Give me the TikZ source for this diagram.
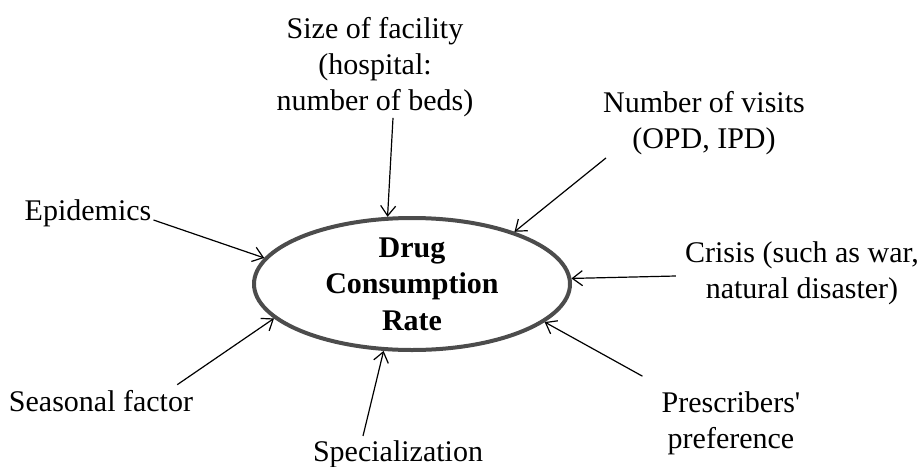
\documentclass[tikz,border=0pt]{standalone}
\usepackage{fontspec}
\setmainfont{Liberation Serif}
\usetikzlibrary{shapes.geometric, arrows.meta}

\begin{document}
\begin{tikzpicture}[x=1pt, y=-1pt,
    factor/.style={inner sep=0pt, align=center, font=\fontsize{30}{36}\selectfont},
    feed/.style={-{Straight Barb[length=10pt, width=15pt]}, line width=1.2pt, black}]
    \useasboundingbox (0,0) rectangle (923,466);
    \node[ellipse, draw=black!70, line width=4pt, minimum width=316pt, minimum height=132pt, inner sep=0pt, align=center, font=\fontsize{30}{36.5}\selectfont\bfseries] at (412,284) (rate) {Drug\\Consumption\\Rate};
    \node[factor] at (375,67) (size) {Size of facility\\(hospital:\\number of beds)};
    \node[factor] at (704,123) (visits) {Number of visits\\(OPD, IPD)};
    \node[factor, anchor=base] at (88,220) (epid) {Epidemics};
    \node[factor] at (802,273) (crisis) {Crisis (such as war,\\natural disaster)};
    \node[factor, anchor=base] at (101,411) (season) {Seasonal factor};
    \node[factor, anchor=base] at (398,461) (special) {Specialization};
    \node[factor] at (731,423) (prescr) {Prescribers\textquotesingle\\preference};
    \draw[feed] ([xshift=18pt, yshift=-1pt]size.south) -- (rate.110.7);
    \draw[feed] ([xshift=3pt, yshift=-3pt]visits.south west) -- (rate.27.4);
    \draw[feed] ([xshift=2pt]epid.base east) -- (rate.170.8);
    \draw[feed] ([xshift=-9pt, yshift=-3pt]crisis.west) -- (rate.2.9);
    \draw[feed] ([xshift=-16pt, yshift=5pt]season.north east) -- (rate.194.3);
    \draw[feed] ([xshift=-35pt, yshift=4pt]special.north) -- (rate.247.9);
    \draw[feed] ([xshift=-19pt, yshift=15pt]prescr.north west) -- (rate.344.6);
\end{tikzpicture}
\end{document}
